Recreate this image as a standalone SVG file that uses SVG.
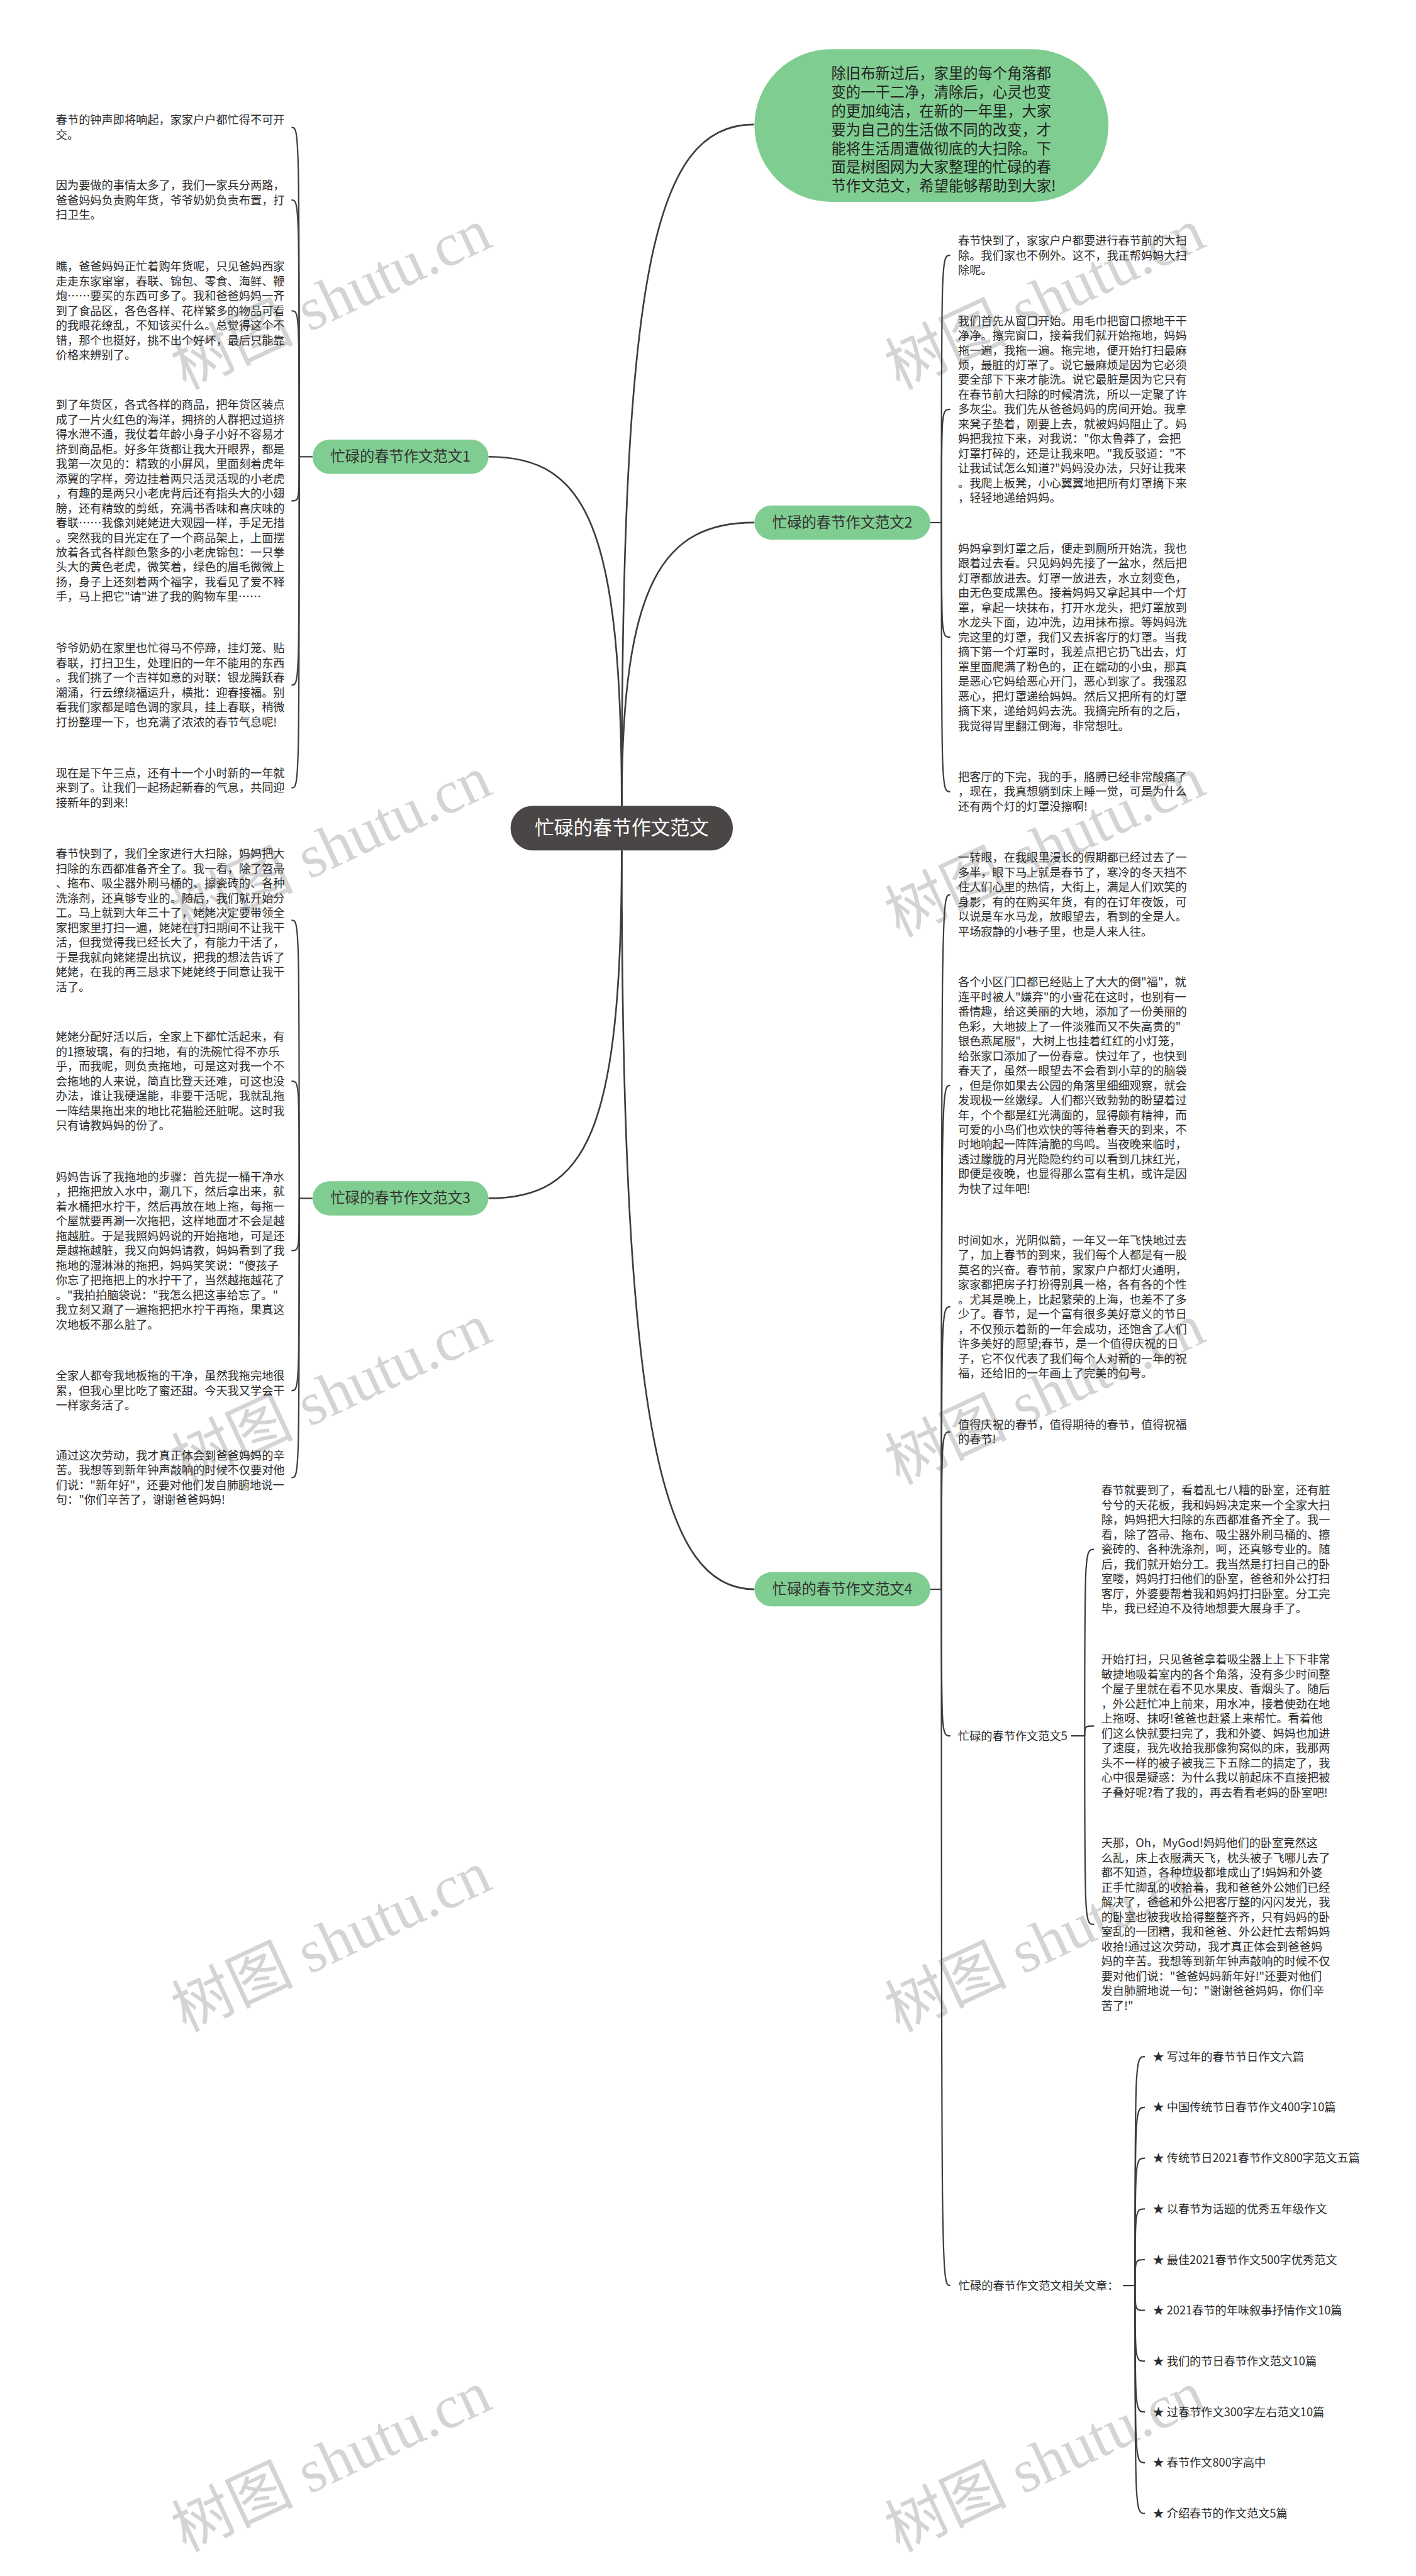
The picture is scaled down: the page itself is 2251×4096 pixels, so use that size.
<svg xmlns="http://www.w3.org/2000/svg" width="2251" height="4096" viewBox="0 0 2251 4096">
<style>
.t{font-family:"Noto Sans CJK SC","Noto Sans",sans-serif;font-size:20.7px;fill:#2b2b2b}
.wm{font-family:"Liberation Serif","Noto Sans CJK SC",serif;font-size:110px;fill:#d4d4d4}
.main{fill:none;stroke:#3d3d3d;stroke-width:3}
.sub{fill:none;stroke:#3d3d3d;stroke-width:2.5}
.gn{fill:#80cd91}
.nt{font-family:"Noto Sans CJK SC","Noto Sans",sans-serif;font-size:26.5px;fill:#333;text-anchor:middle}
</style>
<rect x="0" y="0" width="2251" height="4096" fill="#ffffff"/>
<g transform="scale(0.879297)">
<g id="watermarks">
<text class="wm" transform="translate(335,705) rotate(-25)">树图 shutu.cn</text>
<text class="wm" transform="translate(1625,705) rotate(-25)">树图 shutu.cn</text>
<text class="wm" transform="translate(335,1695) rotate(-25)">树图 shutu.cn</text>
<text class="wm" transform="translate(1625,1695) rotate(-25)">树图 shutu.cn</text>
<text class="wm" transform="translate(335,2685) rotate(-25)">树图 shutu.cn</text>
<text class="wm" transform="translate(1625,2685) rotate(-25)">树图 shutu.cn</text>
<text class="wm" transform="translate(335,3675) rotate(-25)">树图 shutu.cn</text>
<text class="wm" transform="translate(1625,3675) rotate(-25)">树图 shutu.cn</text>
<text class="wm" transform="translate(335,4615) rotate(-25)">树图 shutu.cn</text>
<text class="wm" transform="translate(1625,4615) rotate(-25)">树图 shutu.cn</text>
</g>
<g id="connectors">
<path class="main" d="M1124 1457C1124 500 1180 225 1363 225"/>
<path class="main" d="M1124 1457C1124 950 1060 826 883 826"/>
<path class="main" d="M1124 1457C1124 1050 1200 945 1364 945"/>
<path class="main" d="M1124 1538C1124 2050 1060 2167 883 2167"/>
<path class="main" d="M1124 1538C1124 2600 1200 2874 1364 2874"/>
<path class="sub" d="M565 826H541"/>
<path class="sub" d="M541 826C541 230.4 541 230.4 527 230.4"/>
<path class="sub" d="M541 826C541 361.7 541 361.7 527 361.7"/>
<path class="sub" d="M541 826C541 562.1 541 562.1 527 562.1"/>
<path class="sub" d="M541 826C541 905.6 541 905.6 527 905.6"/>
<path class="sub" d="M541 826C541 1238.8 541 1238.8 527 1238.8"/>
<path class="sub" d="M541 826C541 1424.7 541 1424.7 527 1424.7"/>
<path class="sub" d="M565 2167H541"/>
<path class="sub" d="M541 2167C541 1664.2 541 1664.2 527 1664.2"/>
<path class="sub" d="M541 2167C541 1955.1 541 1955.1 527 1955.1"/>
<path class="sub" d="M541 2167C541 2261.5 541 2261.5 527 2261.5"/>
<path class="sub" d="M541 2167C541 2514.7 541 2514.7 527 2514.7"/>
<path class="sub" d="M541 2167C541 2672.1 541 2672.1 527 2672.1"/>
<path class="sub" d="M1682 945H1702"/>
<path class="sub" d="M1702 945C1702 461.7 1702 461.7 1718 461.7"/>
<path class="sub" d="M1702 945C1702 740.2 1702 740.2 1718 740.2"/>
<path class="sub" d="M1702 945C1702 1152.2 1702 1152.2 1718 1152.2"/>
<path class="sub" d="M1702 945C1702 1431.7 1702 1431.7 1718 1431.7"/>
<path class="sub" d="M1682 2874H1702"/>
<path class="sub" d="M1702 2874C1702 1617.8 1702 1617.8 1718 1617.8"/>
<path class="sub" d="M1702 2874C1702 1962.9 1702 1962.9 1718 1962.9"/>
<path class="sub" d="M1702 2874C1702 2363.2 1702 2363.2 1718 2363.2"/>
<path class="sub" d="M1702 2874C1702 2589.4 1702 2589.4 1718 2589.4"/>
<path class="sub" d="M1702 2874C1702 3139 1702 3139 1718 3139"/>
<path class="sub" d="M1702 2874C1702 4133 1702 4133 1718 4133"/>
<path class="sub" d="M1936 3139H1961"/>
<path class="sub" d="M1961 3139C1961 2801.8 1961 2801.8 1978 2801.8"/>
<path class="sub" d="M1961 3139C1961 3121.2 1961 3121.2 1978 3121.2"/>
<path class="sub" d="M1961 3139C1961 3479.9 1961 3479.9 1978 3479.9"/>
<path class="sub" d="M2030 4133H2052"/>
<path class="sub" d="M2052 4133C2052 3719 2052 3719 2070 3719"/>
<path class="sub" d="M2052 4133C2052 3810.8 2052 3810.8 2070 3810.8"/>
<path class="sub" d="M2052 4133C2052 3902.6 2052 3902.6 2070 3902.6"/>
<path class="sub" d="M2052 4133C2052 3994.4 2052 3994.4 2070 3994.4"/>
<path class="sub" d="M2052 4133C2052 4086.2 2052 4086.2 2070 4086.2"/>
<path class="sub" d="M2052 4133C2052 4178 2052 4178 2070 4178"/>
<path class="sub" d="M2052 4133C2052 4269.8 2052 4269.8 2070 4269.8"/>
<path class="sub" d="M2052 4133C2052 4361.6 2052 4361.6 2070 4361.6"/>
<path class="sub" d="M2052 4133C2052 4453.4 2052 4453.4 2070 4453.4"/>
<path class="sub" d="M2052 4133C2052 4545.2 2052 4545.2 2070 4545.2"/>
</g>
<g id="center">
<rect x="923" y="1457" width="402" height="81" rx="40.5" fill="#4b4646"/>
<text x="1124" y="1509" font-family="Noto Sans CJK SC, Noto Sans, sans-serif" font-size="35" fill="#ffffff" text-anchor="middle">忙碌的春节作文范文</text>
</g>
<g id="intro">
<rect x="1364" y="89" width="640" height="276" rx="138" class="gn"/>
<text class="t" style="font-size:26.5px;fill:#222">
<tspan x="1503" y="142.5">除旧布新过后，家里的每个角落都</tspan>
<tspan x="1503" y="176.4">变的一干二净，清除后，心灵也变</tspan>
<tspan x="1503" y="210.3">的更加纯洁，在新的一年里，大家</tspan>
<tspan x="1503" y="244.2">要为自己的生活做不同的改变，才</tspan>
<tspan x="1503" y="278.1">能将生活周遭做彻底的大扫除。下</tspan>
<tspan x="1503" y="312">面是树图网为大家整理的忙碌的春</tspan>
<tspan x="1503" y="345.9">节作文范文，希望能够帮助到大家!</tspan>
</text>
</g>
<g id="n1">
<rect x="565" y="795" width="318" height="62" rx="31" class="gn"/>
<text class="nt" x="724" y="835">忙碌的春节作文范文1</text>
</g>
<g id="n2">
<rect x="1364" y="914" width="318" height="62" rx="31" class="gn"/>
<text class="nt" x="1523" y="954">忙碌的春节作文范文2</text>
</g>
<g id="n3">
<rect x="565" y="2136" width="318" height="62" rx="31" class="gn"/>
<text class="nt" x="724" y="2176">忙碌的春节作文范文3</text>
</g>
<g id="n4">
<rect x="1364" y="2843" width="318" height="62" rx="31" class="gn"/>
<text class="nt" x="1523" y="2883">忙碌的春节作文范文4</text>
</g>
<g id="b1"><text class="t">
<tspan x="101" y="224.5">春节的钟声即将响起，家家户户都忙得不可开</tspan>
<tspan x="101" y="251.2">交。</tspan>
</text></g>
<g id="b2"><text class="t">
<tspan x="101" y="342.5">因为要做的事情太多了，我们一家兵分两路，</tspan>
<tspan x="101" y="369.2">爸爸妈妈负责购年货，爷爷奶奶负责布置，打</tspan>
<tspan x="101" y="395.9">扫卫生。</tspan>
</text></g>
<g id="b3"><text class="t">
<tspan x="101" y="489.5">瞧，爸爸妈妈正忙着购年货呢，只见爸妈西家</tspan>
<tspan x="101" y="516.2">走走东家窜窜，春联、锦包、零食、海鲜、鞭</tspan>
<tspan x="101" y="542.9">炮……要买的东西可多了。我和爸爸妈妈一齐</tspan>
<tspan x="101" y="569.6">到了食品区，各色各样、花样繁多的物品可看</tspan>
<tspan x="101" y="596.3">的我眼花缭乱，不知该买什么。总觉得这个不</tspan>
<tspan x="101" y="623">错，那个也挺好，挑不出个好坏，最后只能靠</tspan>
<tspan x="101" y="649.7">价格来辨别了。</tspan>
</text></g>
<g id="b4"><text class="t">
<tspan x="101" y="739.5">到了年货区，各式各样的商品，把年货区装点</tspan>
<tspan x="101" y="766.2">成了一片火红色的海洋，拥挤的人群把过道挤</tspan>
<tspan x="101" y="792.9">得水泄不通，我仗着年龄小身子小好不容易才</tspan>
<tspan x="101" y="819.6">挤到商品柜。好多年货都让我大开眼界，都是</tspan>
<tspan x="101" y="846.3">我第一次见的：精致的小屏风，里面刻着虎年</tspan>
<tspan x="101" y="873">添翼的字样，旁边挂着两只活灵活现的小老虎</tspan>
<tspan x="101" y="899.7">，有趣的是两只小老虎背后还有指头大的小翅</tspan>
<tspan x="101" y="926.4">膀，还有精致的剪纸，充满书香味和喜庆味的</tspan>
<tspan x="101" y="953.1">春联……我像刘姥姥进大观园一样，手足无措</tspan>
<tspan x="101" y="979.8">。突然我的目光定在了一个商品架上，上面摆</tspan>
<tspan x="101" y="1006.5">放着各式各样颜色繁多的小老虎锦包：一只拳</tspan>
<tspan x="101" y="1033.2">头大的黄色老虎，微笑着，绿色的眉毛微微上</tspan>
<tspan x="101" y="1059.9">扬，身子上还刻着两个福字，我看见了爱不释</tspan>
<tspan x="101" y="1086.6">手，马上把它"请"进了我的购物车里……</tspan>
</text></g>
<g id="b5"><text class="t">
<tspan x="101" y="1179.5">爷爷奶奶在家里也忙得马不停蹄，挂灯笼、贴</tspan>
<tspan x="101" y="1206.2">春联，打扫卫生，处理旧的一年不能用的东西</tspan>
<tspan x="101" y="1232.9">。我们挑了一个吉祥如意的对联：银龙腾跃春</tspan>
<tspan x="101" y="1259.6">潮涌，行云缭绕福运升，横批：迎春接福。别</tspan>
<tspan x="101" y="1286.3">看我们家都是暗色调的家具，挂上春联，稍微</tspan>
<tspan x="101" y="1313">打扮整理一下，也充满了浓浓的春节气息呢!</tspan>
</text></g>
<g id="b6"><text class="t">
<tspan x="101" y="1405.5">现在是下午三点，还有十一个小时新的一年就</tspan>
<tspan x="101" y="1432.2">来到了。让我们一起扬起新春的气息，共同迎</tspan>
<tspan x="101" y="1458.9">接新年的到来!</tspan>
</text></g>
<g id="c1"><text class="t">
<tspan x="101" y="1551.5">春节快到了，我们全家进行大扫除，妈妈把大</tspan>
<tspan x="101" y="1578.2">扫除的东西都准备齐全了。我一看，除了笤帚</tspan>
<tspan x="101" y="1604.9">、拖布、吸尘器外刷马桶的、擦瓷砖的、各种</tspan>
<tspan x="101" y="1631.6">洗涤剂，还真够专业的。随后，我们就开始分</tspan>
<tspan x="101" y="1658.3">工。马上就到大年三十了，姥姥决定要带领全</tspan>
<tspan x="101" y="1685">家把家里打扫一遍，姥姥在打扫期间不让我干</tspan>
<tspan x="101" y="1711.7">活，但我觉得我已经长大了，有能力干活了，</tspan>
<tspan x="101" y="1738.4">于是我就向姥姥提出抗议，把我的想法告诉了</tspan>
<tspan x="101" y="1765.1">姥姥，在我的再三恳求下姥姥终于同意让我干</tspan>
<tspan x="101" y="1791.8">活了。</tspan>
</text></g>
<g id="c2"><text class="t">
<tspan x="101" y="1882.5">姥姥分配好活以后，全家上下都忙活起来，有</tspan>
<tspan x="101" y="1909.2">的1擦玻璃，有的扫地，有的洗碗忙得不亦乐</tspan>
<tspan x="101" y="1935.9">乎，而我呢，则负责拖地，可是这对我一个不</tspan>
<tspan x="101" y="1962.6">会拖地的人来说，简直比登天还难，可这也没</tspan>
<tspan x="101" y="1989.3">办法，谁让我硬逞能，非要干活呢，我就乱拖</tspan>
<tspan x="101" y="2016">一阵结果拖出来的地比花猫脸还脏呢。这时我</tspan>
<tspan x="101" y="2042.7">只有请教妈妈的份了。</tspan>
</text></g>
<g id="c3"><text class="t">
<tspan x="101" y="2135.5">妈妈告诉了我拖地的步骤：首先提一桶干净水</tspan>
<tspan x="101" y="2162.2">，把拖把放入水中，涮几下，然后拿出来，就</tspan>
<tspan x="101" y="2188.9">着水桶把水拧干，然后再放在地上拖，每拖一</tspan>
<tspan x="101" y="2215.6">个屋就要再涮一次拖把，这样地面才不会是越</tspan>
<tspan x="101" y="2242.3">拖越脏。于是我照妈妈说的开始拖地，可是还</tspan>
<tspan x="101" y="2269">是越拖越脏，我又向妈妈请教，妈妈看到了我</tspan>
<tspan x="101" y="2295.7">拖地的湿淋淋的拖把，妈妈笑笑说："傻孩子</tspan>
<tspan x="101" y="2322.4">你忘了把拖把上的水拧干了，当然越拖越花了</tspan>
<tspan x="101" y="2349.1">。"我拍拍脑袋说："我怎么把这事给忘了。"</tspan>
<tspan x="101" y="2375.8">我立刻又涮了一遍拖把把水拧干再拖，果真这</tspan>
<tspan x="101" y="2402.5">次地板不那么脏了。</tspan>
</text></g>
<g id="c4"><text class="t">
<tspan x="101" y="2495.5">全家人都夸我地板拖的干净，虽然我拖完地很</tspan>
<tspan x="101" y="2522.2">累，但我心里比吃了蜜还甜。今天我又学会干</tspan>
<tspan x="101" y="2548.9">一样家务活了。</tspan>
</text></g>
<g id="c5"><text class="t">
<tspan x="101" y="2639.5">通过这次劳动，我才真正体会到爸爸妈妈的辛</tspan>
<tspan x="101" y="2666.2">苦。我想等到新年钟声敲响的时候不仅要对他</tspan>
<tspan x="101" y="2692.9">们说："新年好"，还要对他们发自肺腑地说一</tspan>
<tspan x="101" y="2719.6">句："你们辛苦了，谢谢爸爸妈妈!</tspan>
</text></g>
<g id="d1"><text class="t">
<tspan x="1732" y="442.5">春节快到了，家家户户都要进行春节前的大扫</tspan>
<tspan x="1732" y="469.2">除。我们家也不例外。这不，我正帮妈妈大扫</tspan>
<tspan x="1732" y="495.9">除呢。</tspan>
</text></g>
<g id="d2"><text class="t">
<tspan x="1732" y="587.5">我们首先从窗口开始。用毛巾把窗口擦地干干</tspan>
<tspan x="1732" y="614.2">净净。擦完窗口，接着我们就开始拖地，妈妈</tspan>
<tspan x="1732" y="640.9">拖一遍，我拖一遍。拖完地，便开始打扫最麻</tspan>
<tspan x="1732" y="667.6">烦，最脏的灯罩了。说它最麻烦是因为它必须</tspan>
<tspan x="1732" y="694.3">要全部下下来才能洗。说它最脏是因为它只有</tspan>
<tspan x="1732" y="721">在春节前大扫除的时候清洗，所以一定聚了许</tspan>
<tspan x="1732" y="747.7">多灰尘。我们先从爸爸妈妈的房间开始。我拿</tspan>
<tspan x="1732" y="774.4">来凳子垫着，刚要上去，就被妈妈阻止了。妈</tspan>
<tspan x="1732" y="801.1">妈把我拉下来，对我说："你太鲁莽了，会把</tspan>
<tspan x="1732" y="827.8">灯罩打碎的，还是让我来吧。"我反驳道："不</tspan>
<tspan x="1732" y="854.5">让我试试怎么知道?"妈妈没办法，只好让我来</tspan>
<tspan x="1732" y="881.2">。我爬上板凳，小心翼翼地把所有灯罩摘下来</tspan>
<tspan x="1732" y="907.9">，轻轻地递给妈妈。</tspan>
</text></g>
<g id="d3"><text class="t">
<tspan x="1732" y="999.5">妈妈拿到灯罩之后，便走到厕所开始洗，我也</tspan>
<tspan x="1732" y="1026.2">跟着过去看。只见妈妈先接了一盆水，然后把</tspan>
<tspan x="1732" y="1052.9">灯罩都放进去。灯罩一放进去，水立刻变色，</tspan>
<tspan x="1732" y="1079.6">由无色变成黑色。接着妈妈又拿起其中一个灯</tspan>
<tspan x="1732" y="1106.3">罩，拿起一块抹布，打开水龙头，把灯罩放到</tspan>
<tspan x="1732" y="1133">水龙头下面，边冲洗，边用抹布擦。等妈妈洗</tspan>
<tspan x="1732" y="1159.7">完这里的灯罩，我们又去拆客厅的灯罩。当我</tspan>
<tspan x="1732" y="1186.4">摘下第一个灯罩时，我差点把它扔飞出去，灯</tspan>
<tspan x="1732" y="1213.1">罩里面爬满了粉色的，正在蠕动的小虫，那真</tspan>
<tspan x="1732" y="1239.8">是恶心它妈给恶心开门，恶心到家了。我强忍</tspan>
<tspan x="1732" y="1266.5">恶心，把灯罩递给妈妈。然后又把所有的灯罩</tspan>
<tspan x="1732" y="1293.2">摘下来，递给妈妈去洗。我摘完所有的之后，</tspan>
<tspan x="1732" y="1319.9">我觉得胃里翻江倒海，非常想吐。</tspan>
</text></g>
<g id="d4"><text class="t">
<tspan x="1732" y="1412.5">把客厅的下完，我的手，胳膊已经非常酸痛了</tspan>
<tspan x="1732" y="1439.2">，现在，我真想躺到床上睡一觉，可是为什么</tspan>
<tspan x="1732" y="1465.9">还有两个灯的灯罩没擦啊!</tspan>
</text></g>
<g id="e1"><text class="t">
<tspan x="1732" y="1558.5">一转眼，在我眼里漫长的假期都已经过去了一</tspan>
<tspan x="1732" y="1585.2">多半，眼下马上就是春节了，寒冷的冬天挡不</tspan>
<tspan x="1732" y="1611.9">住人们心里的热情，大街上，满是人们欢笑的</tspan>
<tspan x="1732" y="1638.6">身影，有的在购买年货，有的在订年夜饭，可</tspan>
<tspan x="1732" y="1665.3">以说是车水马龙，放眼望去，看到的全是人。</tspan>
<tspan x="1732" y="1692">平场寂静的小巷子里，也是人来人往。</tspan>
</text></g>
<g id="e2"><text class="t">
<tspan x="1732" y="1783.5">各个小区门口都已经贴上了大大的倒"福"，就</tspan>
<tspan x="1732" y="1810.2">连平时被人"嫌弃"的小雪花在这时，也别有一</tspan>
<tspan x="1732" y="1836.9">番情趣，给这美丽的大地，添加了一份美丽的</tspan>
<tspan x="1732" y="1863.6">色彩，大地披上了一件淡雅而又不失高贵的"</tspan>
<tspan x="1732" y="1890.3">银色燕尾服"，大树上也挂着红红的小灯笼，</tspan>
<tspan x="1732" y="1917">给张家口添加了一份春意。快过年了，也快到</tspan>
<tspan x="1732" y="1943.7">春天了，虽然一眼望去不会看到小草的的脑袋</tspan>
<tspan x="1732" y="1970.4">，但是你如果去公园的角落里细细观察，就会</tspan>
<tspan x="1732" y="1997.1">发现极一丝嫩绿。人们都兴致勃勃的盼望着过</tspan>
<tspan x="1732" y="2023.8">年，个个都是红光满面的，显得颇有精神，而</tspan>
<tspan x="1732" y="2050.5">可爱的小鸟们也欢快的等待着春天的到来，不</tspan>
<tspan x="1732" y="2077.2">时地响起一阵阵清脆的鸟鸣。当夜晚来临时，</tspan>
<tspan x="1732" y="2103.9">透过朦胧的月光隐隐约约可以看到几抹红光，</tspan>
<tspan x="1732" y="2130.6">即便是夜晚，也显得那么富有生机，或许是因</tspan>
<tspan x="1732" y="2157.3">为快了过年吧!</tspan>
</text></g>
<g id="e3"><text class="t">
<tspan x="1732" y="2250.5">时间如水，光阴似箭，一年又一年飞快地过去</tspan>
<tspan x="1732" y="2277.2">了，加上春节的到来，我们每个人都是有一股</tspan>
<tspan x="1732" y="2303.9">莫名的兴奋。春节前，家家户户都灯火通明，</tspan>
<tspan x="1732" y="2330.6">家家都把房子打扮得别具一格，各有各的个性</tspan>
<tspan x="1732" y="2357.3">。尤其是晚上，比起繁荣的上海，也差不了多</tspan>
<tspan x="1732" y="2384">少了。春节，是一个富有很多美好意义的节日</tspan>
<tspan x="1732" y="2410.7">，不仅预示着新的一年会成功，还饱含了人们</tspan>
<tspan x="1732" y="2437.4">许多美好的愿望;春节，是一个值得庆祝的日</tspan>
<tspan x="1732" y="2464.1">子，它不仅代表了我们每个人对新的一年的祝</tspan>
<tspan x="1732" y="2490.8">福，还给旧的一年画上了完美的句号。</tspan>
</text></g>
<g id="e4"><text class="t">
<tspan x="1732" y="2583.5">值得庆祝的春节，值得期待的春节，值得祝福</tspan>
<tspan x="1732" y="2610.2">的春节!</tspan>
</text></g>
<g id="n5"><text class="t" x="1732" y="3146.5">忙碌的春节作文范文5</text></g>
<g id="f1"><text class="t">
<tspan x="1991" y="2702.5">春节就要到了，看着乱七八糟的卧室，还有脏</tspan>
<tspan x="1991" y="2729.2">兮兮的天花板，我和妈妈决定来一个全家大扫</tspan>
<tspan x="1991" y="2755.9">除，妈妈把大扫除的东西都准备齐全了。我一</tspan>
<tspan x="1991" y="2782.6">看，除了笤帚、拖布、吸尘器外刷马桶的、擦</tspan>
<tspan x="1991" y="2809.3">瓷砖的、各种洗涤剂，呵，还真够专业的。随</tspan>
<tspan x="1991" y="2836">后，我们就开始分工。我当然是打扫自己的卧</tspan>
<tspan x="1991" y="2862.7">室喽，妈妈打扫他们的卧室，爸爸和外公打扫</tspan>
<tspan x="1991" y="2889.4">客厅，外婆要帮着我和妈妈打扫卧室。分工完</tspan>
<tspan x="1991" y="2916.1">毕，我已经迫不及待地想要大展身手了。</tspan>
</text></g>
<g id="f2"><text class="t">
<tspan x="1991" y="3008.5">开始打扫，只见爸爸拿着吸尘器上上下下非常</tspan>
<tspan x="1991" y="3035.2">敏捷地吸着室内的各个角落，没有多少时间整</tspan>
<tspan x="1991" y="3061.9">个屋子里就在看不见水果皮、香烟头了。随后</tspan>
<tspan x="1991" y="3088.6">，外公赶忙冲上前来，用水冲，接着使劲在地</tspan>
<tspan x="1991" y="3115.3">上拖呀、抹呀!爸爸也赶紧上来帮忙。看着他</tspan>
<tspan x="1991" y="3142">们这么快就要扫完了，我和外婆、妈妈也加进</tspan>
<tspan x="1991" y="3168.7">了速度，我先收拾我那像狗窝似的床，我那两</tspan>
<tspan x="1991" y="3195.4">头不一样的被子被我三下五除二的搞定了，我</tspan>
<tspan x="1991" y="3222.1">心中很是疑惑：为什么我以前起床不直接把被</tspan>
<tspan x="1991" y="3248.8">子叠好呢?看了我的，再去看看老妈的卧室吧!</tspan>
</text></g>
<g id="f3"><text class="t">
<tspan x="1991" y="3340.5">天那，Oh，MyGod!妈妈他们的卧室竟然这</tspan>
<tspan x="1991" y="3367.2">么乱，床上衣服满天飞，枕头被子飞哪儿去了</tspan>
<tspan x="1991" y="3393.9">都不知道，各种垃圾都堆成山了!妈妈和外婆</tspan>
<tspan x="1991" y="3420.6">正手忙脚乱的收拾着，我和爸爸外公她们已经</tspan>
<tspan x="1991" y="3447.3">解决了，爸爸和外公把客厅整的闪闪发光，我</tspan>
<tspan x="1991" y="3474">的卧室也被我收拾得整整齐齐，只有妈妈的卧</tspan>
<tspan x="1991" y="3500.7">室乱的一团糟，我和爸爸、外公赶忙去帮妈妈</tspan>
<tspan x="1991" y="3527.4">收拾!通过这次劳动，我才真正体会到爸爸妈</tspan>
<tspan x="1991" y="3554.1">妈的辛苦。我想等到新年钟声敲响的时候不仅</tspan>
<tspan x="1991" y="3580.8">要对他们说："爸爸妈妈新年好!"还要对他们</tspan>
<tspan x="1991" y="3607.5">发自肺腑地说一句："谢谢爸爸妈妈，你们辛</tspan>
<tspan x="1991" y="3634.2">苦了!"</tspan>
</text></g>
<g id="related"><text class="t" x="1733" y="4140.5">忙碌的春节作文范文相关文章：</text></g>
<g id="r1"><text class="t" x="2084" y="3726.5">★ 写过年的春节节日作文六篇</text></g>
<g id="r2"><text class="t" x="2084" y="3818.3">★ 中国传统节日春节作文400字10篇</text></g>
<g id="r3"><text class="t" x="2084" y="3910.1">★ 传统节日2021春节作文800字范文五篇</text></g>
<g id="r4"><text class="t" x="2084" y="4001.9">★ 以春节为话题的优秀五年级作文</text></g>
<g id="r5"><text class="t" x="2084" y="4093.7">★ 最佳2021春节作文500字优秀范文</text></g>
<g id="r6"><text class="t" x="2084" y="4185.5">★ 2021春节的年味叙事抒情作文10篇</text></g>
<g id="r7"><text class="t" x="2084" y="4277.3">★ 我们的节日春节作文范文10篇</text></g>
<g id="r8"><text class="t" x="2084" y="4369.1">★ 过春节作文300字左右范文10篇</text></g>
<g id="r9"><text class="t" x="2084" y="4460.9">★ 春节作文800字高中</text></g>
<g id="r10"><text class="t" x="2084" y="4552.7">★ 介绍春节的作文范文5篇</text></g>
</g>
</svg>
